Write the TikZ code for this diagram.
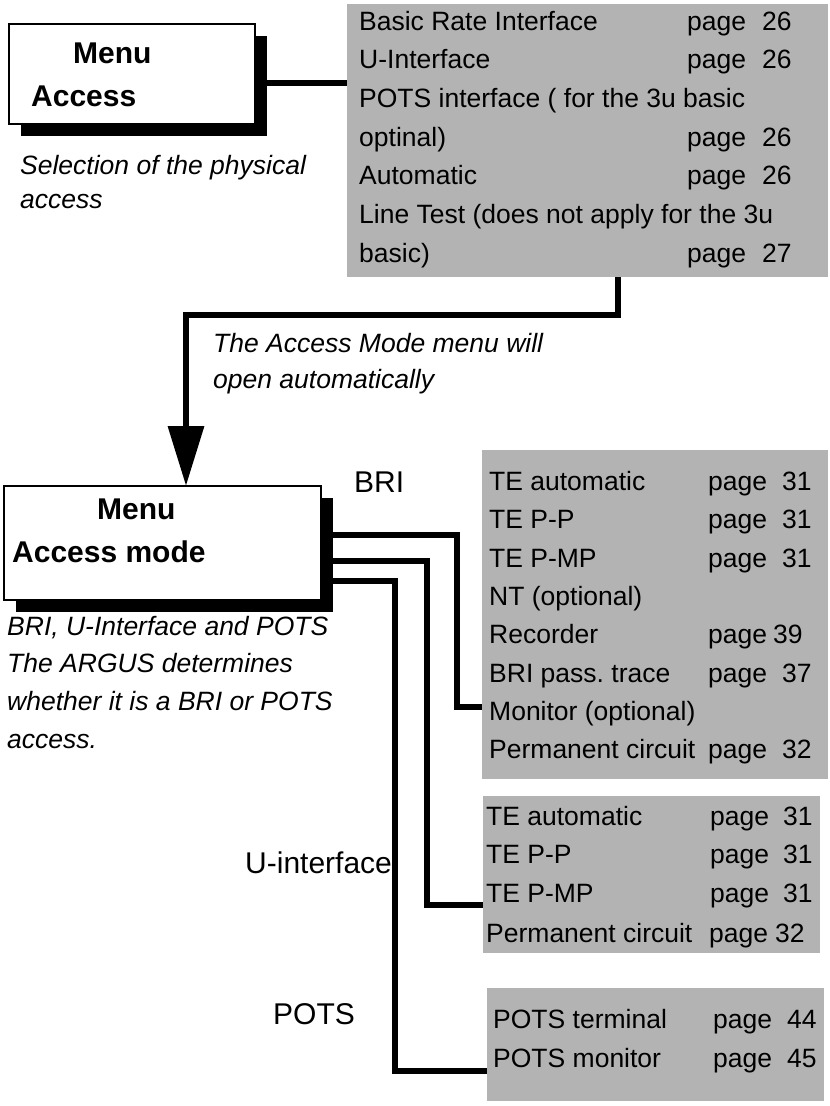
\documentclass[tikz,border=0pt]{standalone}
\usepackage{fontspec}
\setmainfont{Liberation Sans}
\usetikzlibrary{arrows.meta,shadows}
\definecolor{boxgray}{RGB}{179,179,179}
\frenchspacing
\begin{document}
\begin{tikzpicture}[x=1pt,y=-1pt,
  graybox/.style={fill=boxgray,draw=none,anchor=north west,inner sep=0pt,outer sep=0pt},
  menubox/.style={draw=black,line width=1.5pt,fill=white,anchor=north west,inner sep=0pt,outer sep=0pt,
    drop shadow={shadow xshift=12pt,shadow yshift=-12pt,fill=black,opacity=1}},
  menutext/.style={anchor=base west,inner sep=0pt,font=\bfseries\fontsize{30}{34}\selectfont},
  rowtext/.style={anchor=base west,inner sep=0pt,font=\fontsize{26.5}{30}\selectfont},
  captext/.style={anchor=base west,inner sep=0pt,font=\itshape\fontsize{26.5}{30}\selectfont},
  labeltext/.style={anchor=base west,inner sep=0pt,font=\fontsize{30}{34}\selectfont},
  conn/.style={draw=black,line width=6.5pt,line cap=butt,line join=miter}]
\useasboundingbox (0,0) rectangle (830,1106);

% gray boxes
\node[graybox,minimum width=481pt,minimum height=273pt] (g1) at (347,4) {};
\node[graybox,minimum width=346pt,minimum height=329pt] (g2) at (482,450) {};
\node[graybox,minimum width=337pt,minimum height=157pt] (g3) at (483,796) {};
\node[graybox,minimum width=337pt,minimum height=113pt] (g4) at (487,988) {};

% menu boxes
\node[menubox,minimum width=246pt,minimum height=100pt] (m1) at (9,24) {};
\node[menutext] (m1a) at (73,63) {Menu};
\node[menutext] (m1b) at (31,106) {Access};
\node[menubox,minimum width=317pt,minimum height=114pt] (m2) at (4,486) {};
\node[menutext] (m2a) at (97,519) {Menu};
\node[menutext] (m2b) at (12,562) {Access mode};

% captions
\node[captext] (c1a) at (20,174) {Selection of the physical};
\node[captext] (c1b) at (20,208) {access};
\node[captext] (c2a) at (213,352) {The Access Mode menu will};
\node[captext] (c2b) at (213,388) {open automatically};
\node[captext] (c3a) at (7,635) {BRI, U-Interface and POTS};
\node[captext] (c3b) at (7,672) {The ARGUS determines};
\node[captext] (c3c) at (7,710) {whether it is a BRI or POTS};
\node[captext] (c3d) at (7,748) {access.};

% branch labels
\node[labeltext] (lbri) at (354,492) {BRI};
\node[labeltext] (lu) at (245,873) {U-interface};
\node[labeltext] (lpots) at (273,1024) {POTS};

% rows of box 1
\foreach \t/\yy [count=\i] in {{Basic Rate Interface}/30,{U-Interface}/68.5,{POTS interface ( for the 3u basic}/107,{optinal)}/146,{Automatic}/184,{Line Test (does not apply for the 3u}/223,{basic)}/262}
  {\node[rowtext] (ga\i) at (359,\yy) {\t};}
\foreach \yy/\n [count=\i] in {30/26,68.5/26,146/26,184/26,262/27}
  {\node[rowtext] (gap\i) at (687,\yy) {page};
   \node[rowtext] (gan\i) at (762,\yy) {\n};}

% rows of box 2
\foreach \t/\yy [count=\i] in {{TE automatic}/490,{TE P-P}/528,{TE P-MP}/567,{NT (optional)}/605,{Recorder}/643,{BRI pass. trace}/682,{Monitor (optional)}/720,{Permanent circuit}/758}
  {\node[rowtext] (gb\i) at (489,\yy) {\t};}
\foreach \yy/\n/\nx [count=\i] in {490/31/782,528/31/782,567/31/782,643/39/773,682/37/782,758/32/782}
  {\node[rowtext] (gbp\i) at (708,\yy) {page};
   \node[rowtext] (gbn\i) at (\nx,\yy) {\n};}

% rows of box 3
\foreach \t/\yy [count=\i] in {{TE automatic}/825,{TE P-P}/863,{TE P-MP}/902,{Permanent circuit}/942}
  {\node[rowtext] (gc\i) at (486,\yy) {\t};}
\foreach \yy/\n/\px/\nx [count=\i] in {825/31/710/783,863/31/710/783,902/31/710/783,942/32/709/775}
  {\node[rowtext] (gcp\i) at (\px,\yy) {page};
   \node[rowtext] (gcn\i) at (\nx,\yy) {\n};}

% rows of box 4
\foreach \t/\yy/\n [count=\i] in {{POTS terminal}/1028/44,{POTS monitor}/1067/45}
  {\node[rowtext] (gd\i) at (493,\yy) {\t};
   \node[rowtext] (gdp\i) at (713,\yy) {page};
   \node[rowtext] (gdn\i) at (787,\yy) {\n};}

% connector menu access -> box 1
\coordinate (s1) at (264,83);
\draw[conn] (s1) -- (s1 -| g1.west);

% arrow box 1 -> menu access mode
\coordinate (a1) at (618,315);
\coordinate (a2) at (186,315);
\draw[conn,-{Triangle[length=60pt,width=35pt]}] (a1 |- g1.south) -- (a1) -- (a2) -- (a2 |- m2.north);

% connectors from menu access mode
\coordinate (s2) at (330,0);
\coordinate (p1a) at (457,535);
\coordinate (p1b) at (457,707);
\draw[conn] (s2 |- p1a) -- (p1a) -- (p1b) -- (p1b -| g2.west);
\coordinate (p2a) at (427,561);
\coordinate (p2b) at (427,905);
\draw[conn] (s2 |- p2a) -- (p2a) -- (p2b) -- (p2b -| g3.west);
\coordinate (p3a) at (395,581);
\coordinate (p3b) at (395,1071);
\draw[conn] (s2 |- p3a) -- (p3a) -- (p3b) -- (p3b -| g4.west);
\end{tikzpicture}
\end{document}
